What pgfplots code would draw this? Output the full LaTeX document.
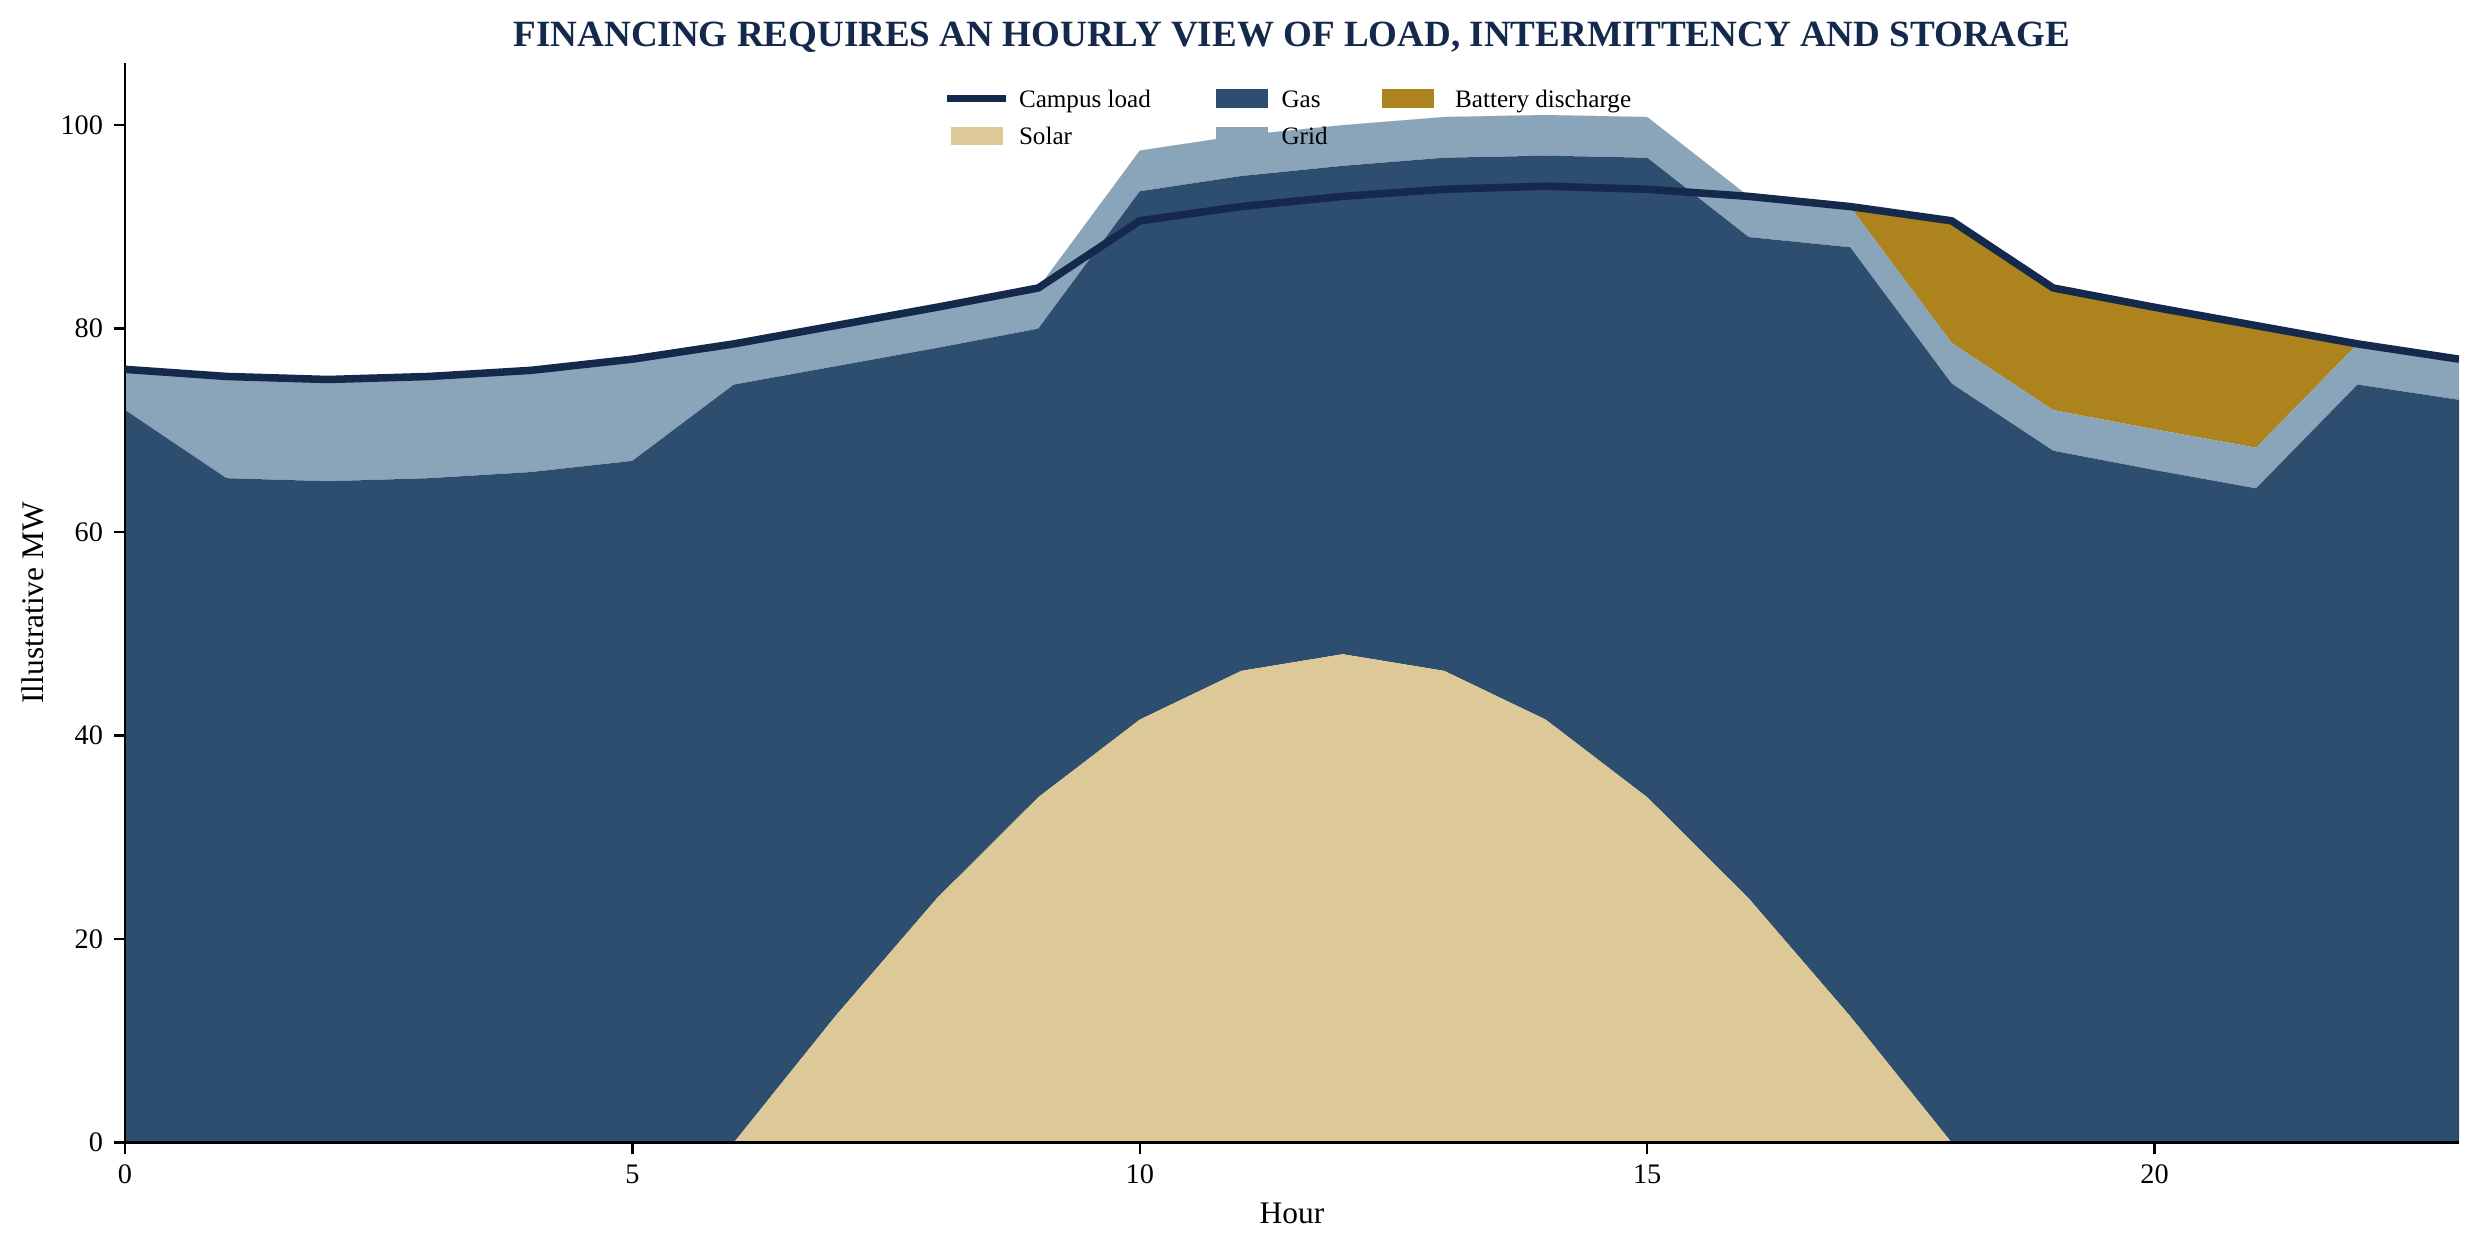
\documentclass[border=0pt]{standalone}
\usepackage{fontspec}
\setmainfont{Liberation Serif}
\usepackage{pgfplots}
\usepackage{pgfplotstable}
\pgfplotsset{compat=1.18}
\definecolor{navy}{HTML}{14294B}
\definecolor{gasc}{HTML}{2D4E6E}
\definecolor{gridc}{HTML}{8AA5B9}
\definecolor{solarc}{HTML}{DCC997}
\definecolor{battc}{HTML}{AC831C}

\pgfplotstableread{
h solar gas grid batt load
0 0 72.0 4.0 0 76.0
1 0 65.3 10.0 0 75.3
2 0 65.0 10.0 0 75.0
3 0 65.3 10.0 0 75.3
4 0 65.9 10.0 0 75.9
5 0 67.0 10.0 0 77.0
6 0 74.5 4.0 0 78.5
7 12.42 63.88 4.0 0 80.3
8 24.0 54.1 4.0 0 82.1
9 33.94 46.06 4.0 0 84.0
10 41.57 51.93 4.0 0 90.6
11 46.36 48.64 4.0 0 92.0
12 48.0 48.0 4.0 0 93.0
13 46.36 50.44 4.0 0 93.7
14 41.57 55.43 4.0 0 94.0
15 33.94 62.86 4.0 0 93.7
16 24.0 65.0 4.0 0 93.0
17 12.42 75.58 4.0 0 92.0
18 0 74.6 4.0 12.0 90.6
19 0 68.0 4.0 12.0 84.0
20 0 66.1 4.0 12.0 82.1
21 0 64.3 4.0 12.0 80.3
22 0 74.5 4.0 0 78.5
23 0 73.0 4.0 0 77.0
}\data

\pgfplotsset{base/.style={at={(0,0)}, anchor=south west, scale only axis,
  width=743.2pt, height=343.7pt, xmin=0, xmax=23, ymin=0, ymax=106.1}}

\begin{document}
\begin{tikzpicture}
\path[use as bounding box] (-39.8pt,-34.9pt) rectangle (750.2pt,363.8pt);
\begin{axis}[base, hide axis, stack plots=y]
\addplot[fill=solarc, draw=none] table[x=h,y=solar] {\data} \closedcycle;
\addplot[fill=gasc, draw=none] table[x=h,y=gas] {\data} \closedcycle;
\addplot[fill=gridc, draw=none] table[x=h,y=grid] {\data} \closedcycle;
\addplot[fill=battc, draw=none] table[x=h,y=batt] {\data} \closedcycle;
\end{axis}
\begin{axis}[base,
  axis x line*=bottom, axis y line*=left,
  axis line style={black, line width=0.8pt},
  tick style={black, line width=0.8pt},
  major tick length=3.5pt, tick align=outside,
  xtick={0,5,10,15,20}, ytick={0,20,40,60,80,100},
  /pgf/number format/assume math mode=true,
  ticklabel style={font=\fontsize{9}{10.8}\selectfont},
  xlabel={Hour}, ylabel={Illustrative MW},
  every axis x label/.style={at={(axis description cs:0.5,-0.0751)}, anchor=base, font=\fontsize{10}{12}\selectfont, inner sep=0pt},
  every axis y label/.style={at={(axis description cs:-0.035,0.5)}, rotate=90, anchor=base, font=\fontsize{10}{12}\selectfont, inner sep=0pt},
  title={FINANCING REQUIRES AN HOURLY VIEW OF LOAD, INTERMITTENCY AND STORAGE},
  every axis title/.style={at={(axis description cs:0.5,1.01513)}, anchor=base, font=\fontsize{11.8}{14}\selectfont\bfseries, text=navy, inner sep=0pt},
  legend columns=3,
  legend style={at={(0.3521,0.9764)}, anchor=north west, draw=none, fill=none, inner sep=0pt,
    font=\fontsize{8}{9.6}\selectfont, cells={anchor=base west},
    nodes={inner sep=0pt, text height=5.5pt, text depth=1.8pt},
    row sep=4.48pt,
    /tikz/column 1/.append style={column sep=4.2pt},
    /tikz/column 3/.append style={column sep=4.2pt},
    /tikz/column 5/.append style={column sep=6.7pt},
    /tikz/column 2/.append style={column sep=20.8pt},
    /tikz/column 4/.append style={column sep=17.3pt}},
]
\addplot[navy, line width=2.4pt, line join=round, forget plot] table[x=h,y=load] {\data};
\addlegendimage{legend image code/.code={\draw[navy, line width=2.4pt, line cap=rect] (0pt,2.75pt) -- (16.2pt,2.75pt);}}
\addlegendentry{Campus load}
\addlegendimage{legend image code/.code={\fill[gasc] (0pt,0pt) rectangle (16.2pt,5.5pt);}}
\addlegendentry{Gas}
\addlegendimage{legend image code/.code={\fill[battc] (0pt,0pt) rectangle (16.2pt,5.5pt);}}
\addlegendentry{Battery discharge}
\addlegendimage{legend image code/.code={\fill[solarc] (0pt,0pt) rectangle (16.2pt,5.5pt);}}
\addlegendentry{Solar}
\addlegendimage{legend image code/.code={\fill[gridc] (0pt,0pt) rectangle (16.2pt,5.5pt);}}
\addlegendentry{Grid}
\end{axis}
\end{tikzpicture}
\end{document}
